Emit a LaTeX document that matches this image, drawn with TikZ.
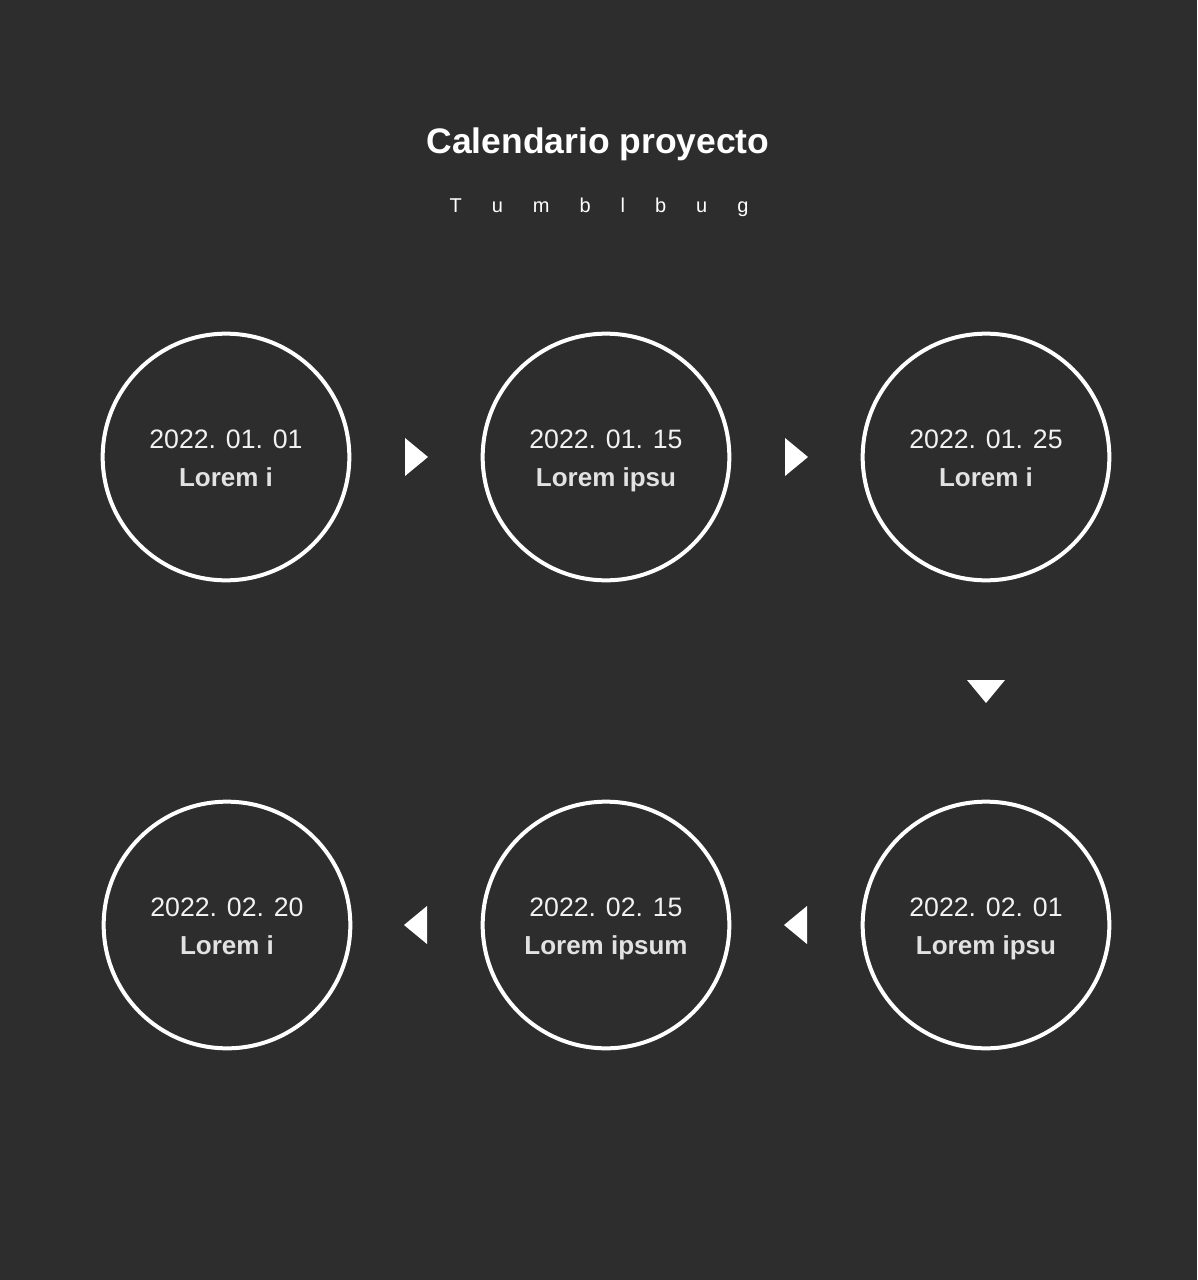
\documentclass[tikz,border=0pt]{standalone}
\usepackage{fontspec}
\setmainfont{Liberation Sans}
\definecolor{bg}{HTML}{2D2D2D}
\definecolor{datec}{HTML}{F2F2F2}
\definecolor{lblc}{HTML}{E2E2E2}
\begin{document}
\begin{tikzpicture}[x=0.75pt,y=-0.75pt,
  circ/.style={circle,draw=white,line width=3pt,minimum size=185pt,inner sep=0pt,fill=bg},
  dtext/.style={text=datec,font=\fontsize{20}{24}\selectfont,anchor=base,inner sep=0pt},
  ltext/.style={text=lblc,font=\bfseries\fontsize{19.5}{24}\selectfont,anchor=base,inner sep=0pt},
  tri/.style={fill=white,draw=none}]
\fill[bg] (0,0) rectangle (1197,1280);
\useasboundingbox (0,0) rectangle (1197,1280);
\node[text=white,font=\bfseries\fontsize{26.6}{30}\selectfont,anchor=base,inner sep=0pt] (title) at (598,154) {Calendario proyecto};
\node[text=white,font=\fontsize{15}{18}\selectfont,anchor=base,inner sep=0pt] (sub) at (599,213) {T\hspace{22.5pt}u\hspace{22.5pt}m\hspace{22.5pt}b\hspace{22.5pt}l\hspace{22.5pt}b\hspace{22.5pt}u\hspace{22.5pt}g};
% circles
\node[circ] (c1) at (226,457) {};
\node[circ] (c2) at (606,457) {};
\node[circ] (c3) at (986,457) {};
\node[circ] (c4) at (986,925) {};
\node[circ] (c5) at (606,925) {};
\node[circ] (c6) at (227,925) {};
\node[dtext] (d1) at (226,448) {2022. 01. 01};
\node[ltext] (l1) at (226,486) {Lorem i};
\node[dtext] (d2) at (606,448) {2022. 01. 15};
\node[ltext] (l2) at (606,486) {Lorem ipsu};
\node[dtext] (d3) at (986,448) {2022. 01. 25};
\node[ltext] (l3) at (986,486) {Lorem i};
\node[dtext] (d4) at (986,916) {2022. 02. 01};
\node[ltext] (l4) at (986,954) {Lorem ipsu};
\node[dtext] (d5) at (606,916) {2022. 02. 15};
\node[ltext] (l5) at (606,954) {Lorem ipsum};
\node[dtext] (d6) at (227,916) {2022. 02. 20};
\node[ltext] (l6) at (227,954) {Lorem i};
% triangles
\coordinate (t1) at (416,457);
\coordinate (t2) at (796,457);
\coordinate (t3) at (986,691);
\coordinate (t4) at (796,925);
\coordinate (t5) at (416,925);
\fill[tri] ([shift={(-11,-19)}]t1) -- ([shift={(12,0)}]t1) -- ([shift={(-11,19)}]t1) -- cycle;
\fill[tri] ([shift={(-11,-19)}]t2) -- ([shift={(12,0)}]t2) -- ([shift={(-11,19)}]t2) -- cycle;
\fill[tri] ([shift={(-19,-11)}]t3) -- ([shift={(19,-11)}]t3) -- ([shift={(0,12)}]t3) -- cycle;
\fill[tri] ([shift={(11,-19)}]t4) -- ([shift={(-12,0)}]t4) -- ([shift={(11,19)}]t4) -- cycle;
\fill[tri] ([shift={(11,-19)}]t5) -- ([shift={(-12,0)}]t5) -- ([shift={(11,19)}]t5) -- cycle;
\end{tikzpicture}
\end{document}
